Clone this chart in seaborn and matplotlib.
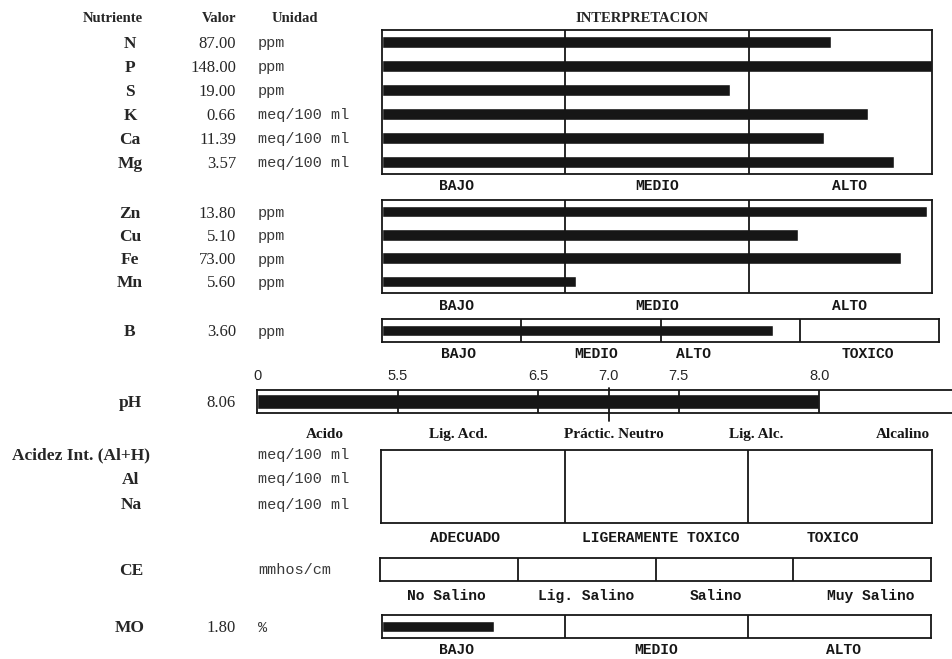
import numpy as np
import pandas as pd
import matplotlib
matplotlib.use("Agg")
import matplotlib.pyplot as plt
import matplotlib.transforms as mtransforms
import seaborn as sns

# ---- values ----
macro_names = ["N", "P", "S", "K", "Ca", "Mg"]
macro_values = ["87.00", "148.00", "19.00", "0.66", "11.39", "3.57"]
macro_units = ["ppm", "ppm", "ppm", "meq/100 ml", "meq/100 ml", "meq/100 ml"]
macro_levels = [2.45, 3.00, 1.90, 2.65, 2.41, 2.79]   # bar end on the BAJO/MEDIO/ALTO scale (0-3)

micro_names = ["Zn", "Cu", "Fe", "Mn"]
micro_values = ["13.80", "5.10", "73.00", "5.60"]
micro_units = ["ppm", "ppm", "ppm", "ppm"]
micro_levels = [2.97, 2.27, 2.83, 1.06]

boro_names = ["B"]
boro_values = ["3.60"]
boro_units = ["ppm"]
boro_levels = [2.81]                                   # 4 classes incl. TOXICO

ph_value = "8.06"
ph_bar = 8.0
ph_breaks = [0, 5.5, 6.5, 7.5, 8.0, 8.5]
ph_ticks = [0, 5.5, 6.5, 7.0, 7.5, 8.0]
ph_ticklabels = ["0", "5.5", "6.5", "7.0", "7.5", "8.0"]
ph_classes = ["Acido", "Lig. Acd.", "Práctic. Neutro", "Lig. Alc.", "Alcalino"]

acid_names = ["Acidez Int. (Al+H)", "Al", "Na"]
acid_units = ["meq/100 ml", "meq/100 ml", "meq/100 ml"]
acid_classes = ["ADECUADO", "LIGERAMENTE TOXICO", "TOXICO"]

ce_units = "mmhos/cm"
ce_classes = ["No Salino", "Lig. Salino", "Salino", "Muy Salino"]

mo_values = ["1.80"]
mo_units = ["%"]
mo_levels = [0.61]

level_classes = ["BAJO", "MEDIO", "ALTO"]
boro_classes = ["BAJO", "MEDIO", "ALTO", "TOXICO"]

# ---- layout ----
W, H = 952, 659
INK = "#161616"
SERIF = "Liberation Serif"
MONO = "Liberation Mono"
SANS = "Liberation Sans"

sns.set_style("white")
plt.rcParams["font.family"] = [SERIF, "DejaVu Sans"]

fig = plt.figure(figsize=(W / 100, H / 100), dpi=100)
fig.patch.set_facecolor("white")


def fx(x):
    return x / W


def fy(y):
    return 1 - y / H


def panel(x0, y0, x1, y1):
    ax = fig.add_axes([fx(x0), fy(y1), (x1 - x0) / W, (y1 - y0) / H])
    ax.set_facecolor("white")
    for s in ax.spines.values():
        s.set_visible(True)
        s.set_color(INK)
        s.set_linewidth(1.3)
    ax.set_xticks([])
    ax.set_yticks([])
    return ax


def bars(ax, names, levels, nseg, height=0.5):
    df = pd.DataFrame({"name": names, "level": levels})
    sns.barplot(data=df, x="level", y="name", orient="h", color=INK,
                saturation=1, width=height, errorbar=None, ax=ax)
    ax.set_xlim(0, nseg)
    ax.set_ylim(len(names) - 0.5, -0.5)
    for k in range(1, nseg):
        ax.axvline(k, color=INK, lw=1.3)
    ax.set_xticks([])
    ax.set_yticks([])
    ax.set_xlabel("")
    ax.set_ylabel("")


def rows(ax, names, values, units):
    # left columns aligned with the bar rows of the panel
    tr = mtransforms.blended_transform_factory(fig.transFigure, ax.transData)
    for i, n in enumerate(names):
        fig.text(fx(130), i, n, transform=tr, ha="center", va="center_baseline",
                 fontsize=12.5, fontweight="bold")
        if values is not None:
            fig.text(fx(236), i, values[i], transform=tr, ha="right",
                     va="center_baseline", fontsize=12)
        fig.text(fx(258), i, units[i], transform=tr, ha="left", va="center_baseline",
                 fontsize=11, family=MONO, color="#3a3a3a")


def classes(labels, xs, y, **kw):
    for lab, x in zip(labels, xs):
        fig.text(fx(x), fy(y), lab, ha="center", va="baseline", **kw)


mono_bold = dict(family=MONO, fontsize=10.5, fontweight="bold", color=INK)

# headers
fig.text(fx(113), fy(18), "Nutriente", ha="center", va="center", fontsize=10.5, fontweight="bold")
fig.text(fx(236), fy(18), "Valor", ha="right", va="center", fontsize=10.5, fontweight="bold")
fig.text(fx(272), fy(18), "Unidad", ha="left", va="center", fontsize=10.5, fontweight="bold")
fig.text(fx(642), fy(18), "INTERPRETACION", ha="center", va="center", fontsize=10.5, fontweight="bold")

# macro nutrients
ax1 = panel(382, 30, 932, 174)
bars(ax1, macro_names, macro_levels, 3)
rows(ax1, macro_names, macro_values, macro_units)
classes(level_classes, [456, 657, 850], 190, **mono_bold)

# micro nutrients
ax2 = panel(382, 200, 932, 293)
bars(ax2, micro_names, micro_levels, 3)
rows(ax2, micro_names, micro_values, micro_units)
classes(level_classes, [456, 657, 850], 310, **mono_bold)

# boron
ax3 = panel(382, 319, 939, 342)
bars(ax3, boro_names, boro_levels, 4)
rows(ax3, boro_names, boro_values, boro_units)
classes(boro_classes, [459, 596, 693, 868], 358, **mono_bold)

# pH on its piecewise scale
ax4 = panel(257, 390, 960, 413)
seg = np.arange(len(ph_breaks))
df_ph = pd.DataFrame({"name": ["pH"], "level": [np.interp(ph_bar, ph_breaks, seg)]})
sns.barplot(data=df_ph, x="level", y="name", orient="h", color=INK, saturation=1,
            width=0.62, errorbar=None, ax=ax4)
ax4.set_xlim(0, len(ph_breaks) - 1)
ax4.set_ylim(0.5, -0.5)
ax4.set_xlabel("")
ax4.set_ylabel("")
ax4.set_yticks([])
tick_pos = np.interp(ph_ticks, ph_breaks, seg)
for p, t in zip(tick_pos, ph_ticks):
    if t == 7.0:
        ax4.axvline(p, ymin=-0.35, ymax=1.1, color=INK, lw=1.3, clip_on=False)
    elif t > 0:
        ax4.axvline(p, color=INK, lw=1.3)
ax4.xaxis.tick_top()
ax4.set_xticks(tick_pos)
ax4.set_xticklabels(ph_ticklabels, family=SANS, fontsize=10.5)
ax4.tick_params(axis="x", length=0, pad=5)
tr4 = mtransforms.blended_transform_factory(fig.transFigure, ax4.transData)
fig.text(fx(130), 0, "pH", transform=tr4, ha="center", va="center_baseline",
         fontsize=12.5, fontweight="bold")
fig.text(fx(236), 0, ph_value, transform=tr4, ha="right", va="center_baseline", fontsize=12)
classes(ph_classes, [325, 458, 614, 756, 903], 438, fontsize=11, fontweight="bold", color=INK)

# acidez / Al / Na
ax5 = panel(381, 450, 932, 523)
ax5.set_xlim(0, len(acid_classes))
for k in range(1, len(acid_classes)):
    ax5.axvline(k, color=INK, lw=1.3)
for i, (n, u) in enumerate(zip(acid_names, acid_units)):
    y = 453 + 25 * i
    if i == 0:
        fig.text(fx(150), fy(y), n, ha="right", va="center_baseline", fontsize=12.5, fontweight="bold")
    else:
        fig.text(fx(131), fy(y), n, ha="center", va="center_baseline", fontsize=12.5, fontweight="bold")
    fig.text(fx(258), fy(y), u, ha="left", va="center_baseline", fontsize=11,
             family=MONO, color="#3a3a3a")
classes(acid_classes, [465, 661, 833], 542, **mono_bold)

# CE
ax6 = panel(380, 558, 931, 581)
ax6.set_xlim(0, len(ce_classes))
for k in range(1, len(ce_classes)):
    ax6.axvline(k, color=INK, lw=1.3)
fig.text(fx(131), fy(569), "CE", ha="center", va="center_baseline", fontsize=12.5, fontweight="bold")
fig.text(fx(258), fy(569), ce_units, ha="left", va="center_baseline", fontsize=11,
         family=MONO, color="#3a3a3a")
classes(ce_classes, [446, 586, 716, 871], 600, **mono_bold)

# MO
ax7 = panel(382, 615, 931, 638)
bars(ax7, ["MO"], mo_levels, 3, height=0.5)
rows(ax7, ["MO"], mo_values, mo_units)
classes(level_classes, [456, 656, 844], 654, **mono_bold)

fig.savefig("out.png", dpi=100, facecolor="white")
